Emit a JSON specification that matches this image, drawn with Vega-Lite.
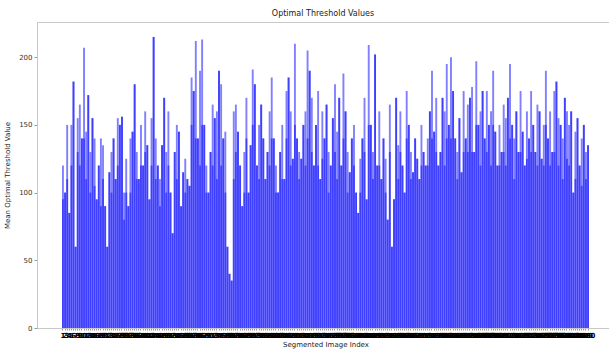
{
 "$schema": "https://vega.github.io/schema/vega-lite/v6.json",
 "width": 572, "height": 306,
 "autosize": {"type": "none"},
 "padding": {"left": 37, "top": 22, "right": 0, "bottom": 21},
 "background": "white",
 "config": {"view": {"stroke": "#c8c8c8"}, "font": "DejaVu Sans"},
 "title": {"text": "Optimal Threshold Values", "fontSize": 8, "fontWeight": "normal", "font": "DejaVu Sans", "color": "#222", "offset": 4},
 "datasets": {"vals": [
{"a":120,"b":95},{"a":100,"b":100},{"a":150,"b":110},{"a":85,"b":85},{"a":150,"b":120},{"a":182,"b":182},{"a":60,"b":60},{"a":155,"b":130},{"a":165,"b":120},{"a":140,"b":140},
{"a":207,"b":140},{"a":145,"b":110},{"a":172,"b":172},{"a":130,"b":100},{"a":155,"b":155},{"a":140,"b":105},{"a":95,"b":95},{"a":120,"b":120},{"a":140,"b":90},{"a":135,"b":110},
{"a":90,"b":90},{"a":60,"b":60},{"a":115,"b":115},{"a":130,"b":100},{"a":140,"b":140},{"a":110,"b":110},{"a":155,"b":120},{"a":150,"b":150},{"a":156,"b":156},{"a":100,"b":80},
{"a":125,"b":100},{"a":90,"b":90},{"a":140,"b":100},{"a":145,"b":145},{"a":180,"b":180},{"a":130,"b":110},{"a":110,"b":110},{"a":150,"b":120},{"a":120,"b":120},{"a":160,"b":130},
{"a":135,"b":135},{"a":95,"b":95},{"a":155,"b":120},{"a":215,"b":215},{"a":140,"b":110},{"a":120,"b":120},{"a":110,"b":90},{"a":135,"b":135},{"a":170,"b":170},{"a":130,"b":100},
{"a":160,"b":120},{"a":100,"b":100},{"a":70,"b":70},{"a":130,"b":130},{"a":150,"b":110},{"a":145,"b":145},{"a":90,"b":90},{"a":115,"b":115},{"a":125,"b":100},{"a":110,"b":110},
{"a":105,"b":105},{"a":185,"b":150},{"a":175,"b":175},{"a":212,"b":140},{"a":140,"b":140},{"a":190,"b":120},{"a":213,"b":150},{"a":150,"b":150},{"a":120,"b":100},{"a":100,"b":100},
{"a":130,"b":130},{"a":165,"b":120},{"a":155,"b":155},{"a":160,"b":110},{"a":190,"b":190},{"a":180,"b":120},{"a":140,"b":140},{"a":145,"b":100},{"a":60,"b":60},{"a":40,"b":40},
{"a":35,"b":35},{"a":160,"b":110},{"a":165,"b":130},{"a":145,"b":145},{"a":120,"b":120},{"a":90,"b":90},{"a":130,"b":100},{"a":170,"b":140},{"a":100,"b":100},{"a":135,"b":135},
{"a":191,"b":150},{"a":180,"b":180},{"a":120,"b":120},{"a":150,"b":110},{"a":165,"b":165},{"a":140,"b":140},{"a":110,"b":110},{"a":130,"b":130},{"a":160,"b":120},{"a":185,"b":140},
{"a":140,"b":140},{"a":120,"b":100},{"a":100,"b":100},{"a":130,"b":130},{"a":150,"b":110},{"a":110,"b":110},{"a":175,"b":140},{"a":185,"b":185},{"a":160,"b":120},{"a":125,"b":125},
{"a":210,"b":150},{"a":140,"b":140},{"a":130,"b":110},{"a":125,"b":125},{"a":150,"b":150},{"a":160,"b":120},{"a":205,"b":140},{"a":190,"b":190},{"a":170,"b":130},{"a":120,"b":120},
{"a":150,"b":150},{"a":175,"b":120},{"a":110,"b":110},{"a":160,"b":125},{"a":140,"b":140},{"a":165,"b":165},{"a":130,"b":100},{"a":120,"b":120},{"a":155,"b":155},{"a":180,"b":130},
{"a":145,"b":110},{"a":170,"b":170},{"a":120,"b":120},{"a":188,"b":140},{"a":160,"b":160},{"a":130,"b":100},{"a":115,"b":115},{"a":140,"b":140},{"a":150,"b":120},{"a":100,"b":100},
{"a":85,"b":85},{"a":125,"b":100},{"a":140,"b":140},{"a":170,"b":130},{"a":95,"b":95},{"a":209,"b":150},{"a":150,"b":150},{"a":130,"b":110},{"a":202,"b":202},{"a":120,"b":120},
{"a":160,"b":120},{"a":110,"b":110},{"a":140,"b":140},{"a":125,"b":100},{"a":80,"b":80},{"a":165,"b":130},{"a":60,"b":60},{"a":95,"b":95},{"a":170,"b":170},{"a":135,"b":110},
{"a":160,"b":130},{"a":120,"b":120},{"a":100,"b":100},{"a":175,"b":140},{"a":150,"b":150},{"a":130,"b":110},{"a":115,"b":115},{"a":140,"b":140},{"a":125,"b":125},{"a":110,"b":110},
{"a":150,"b":120},{"a":130,"b":130},{"a":120,"b":120},{"a":140,"b":120},{"a":160,"b":160},{"a":190,"b":140},{"a":145,"b":145},{"a":170,"b":130},{"a":120,"b":120},{"a":130,"b":130},
{"a":170,"b":170},{"a":160,"b":120},{"a":195,"b":140},{"a":150,"b":150},{"a":200,"b":140},{"a":175,"b":175},{"a":140,"b":140},{"a":130,"b":110},{"a":155,"b":155},{"a":115,"b":115},
{"a":175,"b":130},{"a":140,"b":140},{"a":165,"b":130},{"a":170,"b":170},{"a":178,"b":130},{"a":130,"b":130},{"a":197,"b":150},{"a":150,"b":150},{"a":160,"b":120},{"a":175,"b":175},
{"a":140,"b":140},{"a":175,"b":130},{"a":150,"b":150},{"a":160,"b":120},{"a":190,"b":150},{"a":145,"b":145},{"a":120,"b":120},{"a":150,"b":120},{"a":130,"b":130},{"a":165,"b":130},
{"a":155,"b":120},{"a":170,"b":170},{"a":195,"b":140},{"a":150,"b":150},{"a":140,"b":110},{"a":160,"b":160},{"a":130,"b":130},{"a":175,"b":130},{"a":145,"b":145},{"a":120,"b":120},
{"a":160,"b":125},{"a":140,"b":140},{"a":175,"b":130},{"a":150,"b":150},{"a":130,"b":130},{"a":165,"b":120},{"a":160,"b":160},{"a":125,"b":125},{"a":150,"b":120},{"a":190,"b":150},
{"a":140,"b":140},{"a":160,"b":120},{"a":130,"b":130},{"a":175,"b":130},{"a":182,"b":182},{"a":155,"b":120},{"a":150,"b":150},{"a":140,"b":110},{"a":170,"b":170},{"a":160,"b":125},
{"a":150,"b":120},{"a":160,"b":160},{"a":100,"b":100},{"a":145,"b":110},{"a":155,"b":155},{"a":120,"b":120},{"a":140,"b":105},{"a":150,"b":150},{"a":130,"b":110},{"a":135,"b":135}
 ]},
 "data": {"name": "vals"},
 "transform": [
  {"window": [{"op": "row_number", "as": "n"}]},
  {"fold": ["a", "b"], "as": ["k", "v"]}
 ],
 "mark": {"type": "bar", "color": "#0000ff", "opacity": 0.5},
 "encoding": {
  "x": {"field": "n", "type": "ordinal",
        "scale": {"range": [25, 552], "paddingInner": 0.1, "paddingOuter": 0},
        "axis": {"title": "Segmented Image Index", "titleFontSize": 7, "titleFontWeight": "normal", "titleColor": "#222", "titlePadding": 2,
                 "labelAngle": 0, "labelFontSize": 7, "labelFontWeight": "bold", "labelOverlap": false, "labelColor": "#000", "labelPadding": 1,
                 "tickSize": 2, "tickColor": "#999", "domainColor": "#c8c8c8"}},
  "y": {"field": "v", "type": "quantitative", "stack": null,
        "scale": {"domain": [0, 226], "nice": false, "zero": true},
        "axis": {"title": "Mean Optimal Threshold Value", "values": [0, 50, 100, 150, 200], "grid": false,
                 "labelFontSize": 7, "labelColor": "#333", "titleFontSize": 7, "titleFontWeight": "normal", "titleColor": "#222",
                 "titlePadding": 8, "tickSize": 3, "tickColor": "#999", "domainColor": "#c8c8c8"}}
 }
}
